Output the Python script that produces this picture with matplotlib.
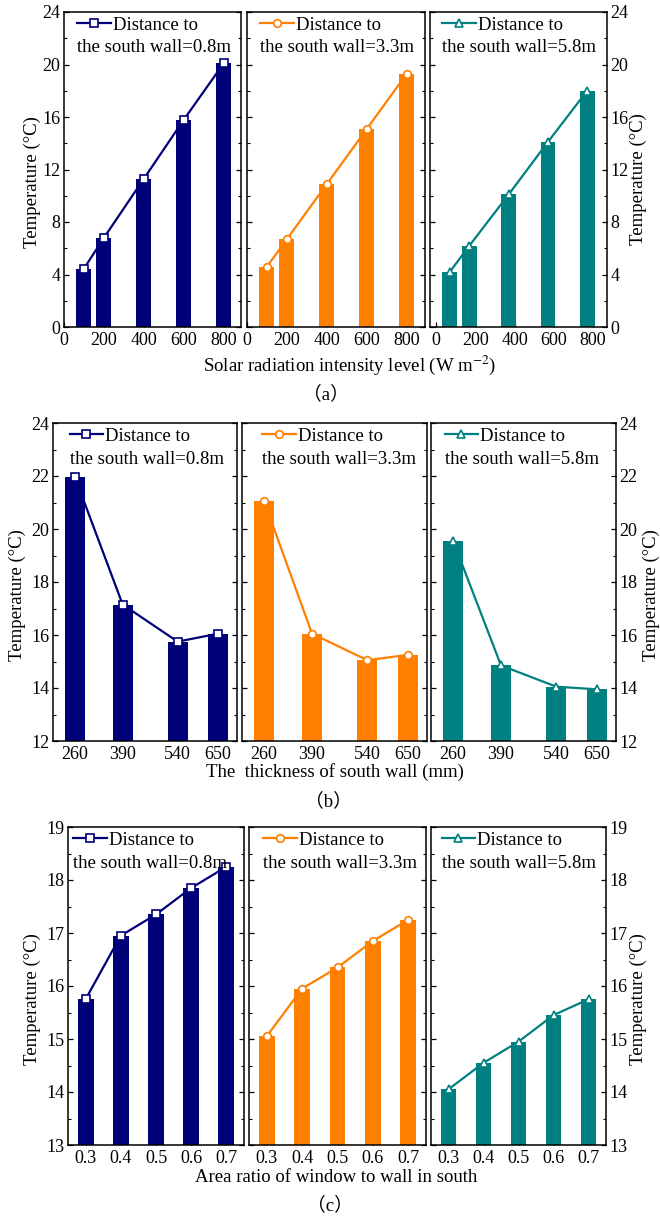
import numpy as np
import matplotlib
matplotlib.use("Agg")
import matplotlib.pyplot as plt
from matplotlib.ticker import MultipleLocator

plt.rcParams['font.family'] = ['Liberation Serif', 'Noto Sans CJK SC']
plt.rcParams['mathtext.fontset'] = 'stix'

# ---- data ----
series_names = ["0.8m", "3.3m", "5.8m"]
colors = ["#000078", "#ff8000", "#008080"]
markers = ["s", "o", "^"]

# (a) solar radiation
sol_x = [100, 200, 400, 600, 800]
sol_x_58 = [70, 170, 370, 570, 770]   # third panel is drawn shifted in the source
sol_08 = [4.45, 6.8, 11.3, 15.8, 20.1]
sol_33 = [4.6, 6.7, 10.9, 15.1, 19.3]
sol_58 = [4.2, 6.2, 10.1, 14.1, 18.0]

# (b) wall thickness
wall_x = [260, 390, 540, 650]
wall_08 = [21.95, 17.15, 15.75, 16.05]
wall_33 = [21.05, 16.05, 15.05, 15.25]
wall_58 = [19.55, 14.85, 14.05, 13.95]

# (c) window to wall ratio
win_x = [0.3, 0.4, 0.5, 0.6, 0.7]
win_08 = [15.75, 16.95, 17.35, 17.85, 18.25]
win_33 = [15.05, 15.95, 16.35, 16.85, 17.25]
win_58 = [14.05, 14.55, 14.95, 15.45, 15.75]

W, H = 660, 1216
fig = plt.figure(figsize=(W / 100, H / 100), dpi=100)

TICK_FS = 13
TEXT_FS = 13.5


def px_axes(x0, x1, top, bottom):
    return fig.add_axes([x0 / W, 1 - bottom / H, (x1 - x0) / W, (bottom - top) / H])


rows = [
    dict(top=12, bottom=327, xs=[(64, 241), (247, 425), (430, 607)],
         x=[sol_x, sol_x, sol_x_58], y=[sol_08, sol_33, sol_58],
         xlim=[(0, 886), (0, 891), (-31, 871)], width=75,
         ylim=(0, 24), major=4, minor=2, xticks=[0, 200, 400, 600, 800],
         xticklabels=None,
         leg_x=[0.073, 0.073, 0.07], ylab_x=(-0.13, 1.126), ylab_y=(0.46, 0.47)),
    dict(top=423, bottom=741, xs=[(53, 237), (242, 427), (431, 616)],
         x=[wall_x, wall_x, wall_x], y=[wall_08, wall_33, wall_58],
         xlim=[(200, 702)] * 3, width=55,
         ylim=(12, 24), major=2, minor=1, xticks=wall_x, xticklabels=None,
         leg_x=[0.09, 0.108, 0.073], ylab_x=(-0.148, 1.145), ylab_y=(0.46, 0.46)),
    dict(top=827, bottom=1145, xs=[(68, 244), (249, 426), (431, 606)],
         x=[win_x, win_x, win_x], y=[win_08, win_33, win_58],
         xlim=[(0.25, 0.75)] * 3, width=0.045,
         ylim=(13, 19), major=1, minor=0.5, xticks=win_x,
         xticklabels=["0.3", "0.4", "0.5", "0.6", "0.7"],
         leg_x=[0.03, 0.079, 0.06], ylab_x=(-0.153, 1.133), ylab_y=(0.46, 0.46)),
]

for r in rows:
    for i in range(3):
        x0, x1 = r["xs"][i]
        ax = px_axes(x0, x1, r["top"], r["bottom"])
        xv, yv = r["x"][i], r["y"][i]
        ax.bar(xv, yv, width=r["width"], color=colors[i], zorder=2)
        line, = ax.plot(xv, yv, color=colors[i], lw=1.6, marker=markers[i],
                        ms=5.5, mfc="white", mec=colors[i], mew=1.2, zorder=3,
                        label="Distance to")
        ax.set_xlim(*r["xlim"][i])
        ax.set_ylim(*r["ylim"])
        ax.set_xticks(r["xticks"])
        if r["xticklabels"]:
            ax.set_xticklabels(r["xticklabels"])
        ax.yaxis.set_major_locator(MultipleLocator(r["major"]))
        ax.yaxis.set_minor_locator(MultipleLocator(r["minor"]))
        ax.tick_params(which="both", direction="in", left=True, right=True,
                       labelsize=TICK_FS, pad=2.5)
        ax.tick_params(which="major", length=3.5, width=0.9)
        ax.tick_params(which="minor", length=2.5, width=0.8)
        ax.tick_params(axis="x", pad=3.5)
        for s in ax.spines.values():
            s.set_linewidth(1.1)
        if i == 0:
            ax.set_ylabel("Temperature (°C)", fontsize=TEXT_FS)
            ax.yaxis.set_label_coords(r["ylab_x"][0], r["ylab_y"][0])
        elif i == 2:
            ax.yaxis.set_label_position("right")
            ax.tick_params(axis="y", labelleft=False, labelright=True)
            ax.set_ylabel("Temperature (°C)", fontsize=TEXT_FS)
            ax.yaxis.set_label_coords(r["ylab_x"][1], r["ylab_y"][1])
        else:
            ax.tick_params(axis="y", labelleft=False)
        ax.legend(handles=[line], loc="upper left",
                  bbox_to_anchor=(r["leg_x"][i], 0.985), frameon=False,
                  borderpad=0, borderaxespad=0, handlelength=1.8,
                  handletextpad=0.1, fontsize=TEXT_FS)
        ax.text(r["leg_x"][i], 1 - 36 / (r["bottom"] - r["top"]),
                "the south wall=" + series_names[i], transform=ax.transAxes,
                ha="left", va="center", fontsize=TEXT_FS)

fig.text(350 / W, 1 - 365 / H, "Solar radiation intensity level (W m$^{-2}$)",
         ha="center", va="center", fontsize=TEXT_FS)
fig.text(326 / W, 1 - 394 / H, "（a）", ha="center", va="center", fontsize=TEXT_FS,
         family=['Liberation Serif', 'Noto Sans CJK TC'])
fig.text(335 / W, 1 - 772 / H, "The  thickness of south wall (mm)",
         ha="center", va="center", fontsize=TEXT_FS)
fig.text(328 / W, 1 - 801 / H, "（b）", ha="center", va="center", fontsize=TEXT_FS,
         family=['Liberation Serif', 'Noto Sans CJK JP'])
fig.text(336 / W, 1 - 1178 / H, "Area ratio of window to wall in south",
         ha="center", va="center", fontsize=TEXT_FS)
fig.text(330 / W, 1 - 1205 / H, "（c）", ha="center", va="center", fontsize=TEXT_FS,
         family=['Liberation Serif', 'Noto Sans CJK KR'])

fig.savefig("out.png", dpi=100)
